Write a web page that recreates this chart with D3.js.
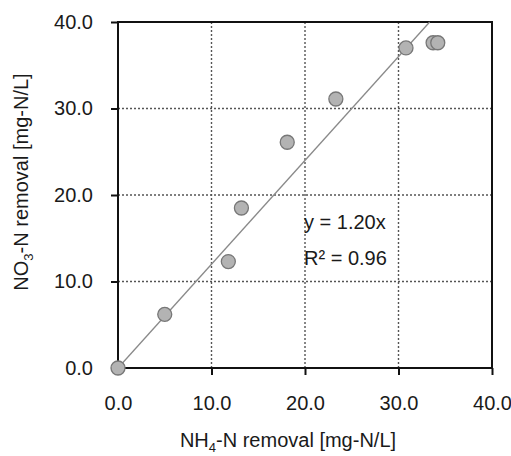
<!DOCTYPE html>
<html lang="en">
<head>
    <meta charset="UTF-8">
    <title>NO3-N vs NH4-N removal</title>
    <script src="https://d3js.org/d3.v7.min.js"></script>
    <style>
        body {
            margin: 0;
            background: #fff;
            font-family: 'Liberation Sans', Arial, sans-serif;
        }
        .tick text {
            font-size: 20px;
            fill: #1a1a1a;
        }
    </style>
</head>
<body>
<div id="chart"></div>
<script>
// values
const nh4Removal = [0, 5.0, 11.8, 13.2, 18.1, 23.3, 30.8, 33.7, 34.2];
const no3Removal = [0, 6.2, 12.3, 18.5, 26.1, 31.1, 37.0, 37.6, 37.6];
const tickValues = [0, 10, 20, 30, 40];
const slope = 1.20;
const rSquared = 0.96;

const width = 511, height = 456;
const plot = { left: 118, right: 492, top: 22, bottom: 368 };

const svg = d3.select("#chart")
    .append("svg")
    .attr("width", width)
    .attr("height", height);

const x = d3.scaleLinear().domain([0, 40]).range([plot.left, plot.right]);
const y = d3.scaleLinear().domain([0, 40]).range([plot.bottom, plot.top]);

// dotted grid
const grid = svg.append("g")
    .attr("stroke", "#555")
    .attr("stroke-width", 1.4)
    .attr("stroke-dasharray", "2,2");

grid.selectAll(".vgrid")
    .data(tickValues.slice(1, -1))
    .enter()
    .append("line")
    .attr("x1", d => x(d)).attr("x2", d => x(d))
    .attr("y1", plot.top).attr("y2", plot.bottom);

grid.selectAll(".hgrid")
    .data(tickValues.slice(1, -1))
    .enter()
    .append("line")
    .attr("x1", plot.left).attr("x2", plot.right)
    .attr("y1", d => y(d)).attr("y2", d => y(d));

// axes
const xAxis = d3.axisBottom(x)
    .tickValues(tickValues)
    .tickSize(7)
    .tickPadding(21)
    .tickFormat(d3.format(".1f"));

const yAxis = d3.axisLeft(y)
    .tickValues(tickValues)
    .tickSize(7)
    .tickPadding(18)
    .tickFormat(d3.format(".1f"));

const gx = svg.append("g")
    .attr("transform", "translate(0," + plot.bottom + ")")
    .call(xAxis);
const gy = svg.append("g")
    .attr("transform", "translate(" + plot.left + ",0)")
    .call(yAxis);

[gx, gy].forEach(g => {
    g.select(".domain").remove();
    g.selectAll(".tick line").attr("stroke", "#111").attr("stroke-width", 2);
    g.selectAll(".tick text").style("font-family", "'Liberation Sans', Arial, sans-serif");
});

// frame
svg.append("rect")
    .attr("x", plot.left)
    .attr("y", plot.top)
    .attr("width", plot.right - plot.left)
    .attr("height", plot.bottom - plot.top)
    .attr("fill", "none")
    .attr("stroke", "#111")
    .attr("stroke-width", 2);

// trend line y = 1.20x
svg.append("line")
    .attr("x1", x(0)).attr("y1", y(0))
    .attr("x2", x(40 / slope)).attr("y2", y(40))
    .attr("stroke", "#8a8a8a")
    .attr("stroke-width", 1.3);

// points
svg.selectAll("circle")
    .data(nh4Removal.map((v, i) => [v, no3Removal[i]]))
    .enter()
    .append("circle")
    .attr("cx", d => x(d[0]))
    .attr("cy", d => y(d[1]))
    .attr("r", 7)
    .attr("fill", "#b3b3b3")
    .attr("stroke", "#777")
    .attr("stroke-width", 1.3);

// equation
svg.append("text")
    .attr("x", 304)
    .attr("y", 229)
    .style("font-size", "20px")
    .attr("fill", "#1a1a1a")
    .text("y = " + slope.toFixed(2) + "x");

svg.append("text")
    .attr("x", 304)
    .attr("y", 265)
    .style("font-size", "20px")
    .attr("fill", "#1a1a1a")
    .text("R\u00b2 = " + rSquared.toFixed(2));

// axis labels
const xLabel = svg.append("text")
    .attr("x", 288)
    .attr("y", 447)
    .style("text-anchor", "middle")
    .style("font-size", "20px")
    .attr("fill", "#1a1a1a");
xLabel.append("tspan").text("NH");
xLabel.append("tspan").attr("dy", 5).style("font-size", "13px").text("4");
xLabel.append("tspan").attr("dy", -5).text("-N removal [mg-N/L]");

const yLabel = svg.append("text")
    .attr("transform", "translate(28,182) rotate(-90)")
    .style("text-anchor", "middle")
    .style("font-size", "20px")
    .attr("fill", "#1a1a1a");
yLabel.append("tspan").text("NO");
yLabel.append("tspan").attr("dy", 5).style("font-size", "13px").text("3");
yLabel.append("tspan").attr("dy", -5).text("-N removal [mg-N/L]");
</script>
</body>
</html>
